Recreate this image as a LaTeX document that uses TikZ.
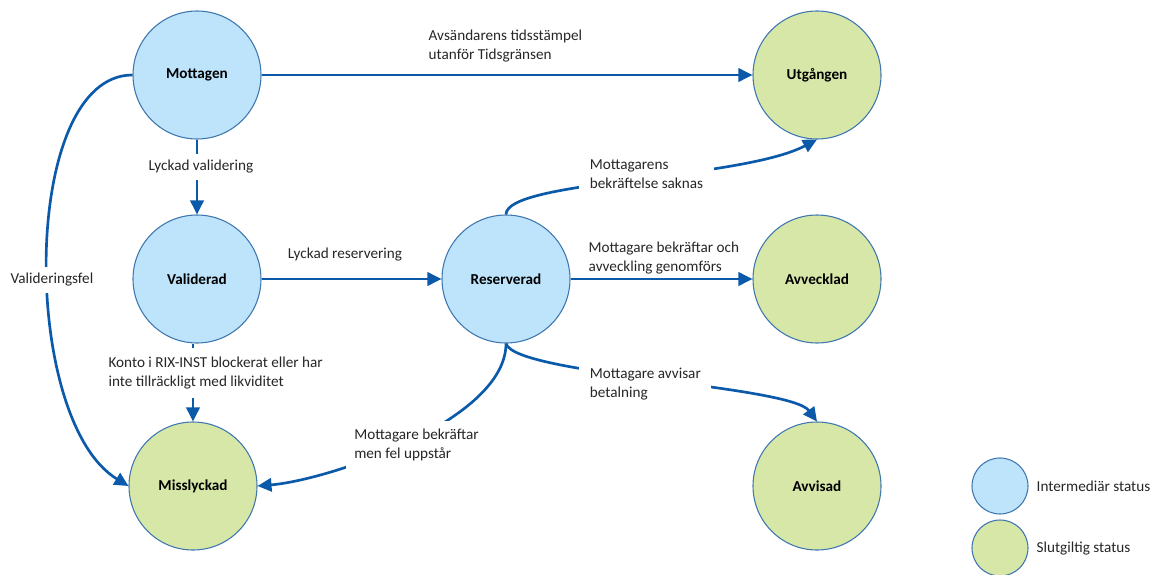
\documentclass[tikz,border=0pt]{standalone}
\usepackage{fontspec}
\setmainfont{Carlito}
\usetikzlibrary{arrows.meta}

\definecolor{interfill}{HTML}{BDE4FB}
\definecolor{finalfill}{HTML}{D7E7A8}
\definecolor{ringblue}{HTML}{3F77B0}
\definecolor{flowblue}{HTML}{0B5AAA}
\definecolor{textgray}{HTML}{262626}

\begin{document}
\begin{tikzpicture}[x = 0.75pt, y = -0.75pt,
	every node/.style = {font = \fontsize{11.4}{14.25}\selectfont, text = textgray},
	inter/.style = {circle, draw = ringblue, line width = 0.8pt, fill = interfill, minimum size = 96pt, inner sep = 0pt, font = \fontsize{11.4}{14.25}\selectfont\bfseries, text = black},
	final/.style = {inter, fill = finalfill},
	keyinter/.style = {circle, draw = ringblue, line width = 0.8pt, fill = interfill, minimum size = 42pt, inner sep = 0pt},
	keyfinal/.style = {keyinter, fill = finalfill},
	flow/.style = {draw = flowblue, line width = 2pt, -{Triangle[length = 10.5pt, width = 10pt]}},
	lbl/.style = {align = left, anchor = west, fill = white, inner sep = 4pt}]
	\useasboundingbox (0, 0) rectangle (1158, 575);

	% states
	\node[inter] (mottagen) at (197, 75) {Mottagen};
	\node[inter] (validerad) at (197, 279) {Validerad};
	\node[final] (misslyckad) at (193, 486) {Misslyckad};
	\node[inter] (reserverad) at (506, 279) {Reserverad};
	\node[final] (utgangen) at (817, 75) {Utgången};
	\node[final] (avvecklad) at (817, 279) {Avvecklad};
	\node[final] (avvisad) at (817, 486) {Avvisad};

	% transitions
	\draw[flow] (mottagen) -- (utgangen);
	\draw[flow] (mottagen) -- (validerad);
	\draw[flow] (validerad) -- (reserverad);
	\draw[flow] (validerad.south -| misslyckad) -- (misslyckad);
	\draw[flow] (reserverad) -- (avvecklad);
	\draw[flow] (mottagen.west) .. controls (20, 75) and (20, 420) .. (misslyckad.west);
	\draw[flow] (reserverad.north) .. controls (506, 180) and (740, 180) .. (utgangen.south);
	\draw[flow] (reserverad.south) .. controls (515, 375) and (790, 385) .. (avvisad.north);
	\draw[flow] (reserverad.south) .. controls (506, 420) and (330, 480) .. (misslyckad.east);

	% labels
	\node[anchor = west, align = left] (tidsgrans) at (424, 46) {Avsändarens tidsstämpel\\utanför Tidsgränsen};
	\node[fill = white, inner sep = 5pt] (lyckadval) at (201, 167) {Lyckad validering};
	\node[anchor = south west, inner sep = 2pt] (lyckadres) at (285, 264) {Lyckad reservering};
	\node[lbl, inner ysep = 7pt] (konto) at (103, 373) {Konto i RIX-INST blockerat eller har\\inte tillräckligt med likviditet};
	\node[fill = white, inner sep = 5pt] (valfel) at (52, 280) {Valideringsfel};
	\node[lbl, inner xsep = 8pt] (saknas) at (579, 174) {Mottagarens\\bekräftelse saknas};
	\node[anchor = west, align = left] (genomfors) at (584, 258) {Mottagare bekräftar och\\avveckling genomförs};
	\node[lbl, inner xsep = 8pt] (avvisar) at (579, 384) {Mottagare avvisar\\betalning};
	\node[lbl, inner sep = 6pt] (felupp) at (346, 445) {Mottagare bekräftar\\men fel uppstår};

	% legend
	\node[keyinter] (keyint) at (1000, 486) {};
	\node[keyfinal] (keyfin) at (1000, 548) {};
	\node[anchor = west] (keyinttext) at (1032, 486) {Intermediär status};
	\node[anchor = west] (keyfintext) at (1032, 549) {Slutgiltig status};
\end{tikzpicture}
\end{document}
